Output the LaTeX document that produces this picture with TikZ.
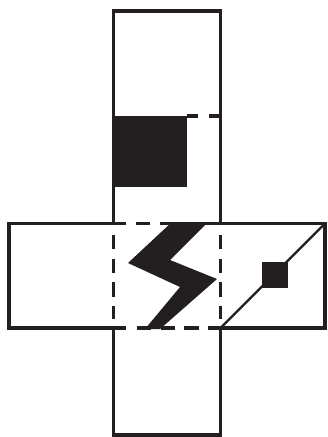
\documentclass[tikz,border=0pt]{standalone}
\usepackage{xcolor}
\usepackage{tikz}
\usetikzlibrary{positioning,calc}

\definecolor{inkblack}{HTML}{231F20}

\begin{document}
\begin{tikzpicture}[
        x=0.75pt, y=-0.75pt,
        outline/.style={draw=inkblack, line width=2.5pt, line cap=butt, line join=miter},
        dashline/.style={draw=inkblack, line width=2.5pt, dash pattern=on 10.8pt off 6.9pt},
        shortdash/.style={draw=inkblack, line width=2.5pt, dash pattern=on 8.25pt off 8.25pt},
        solid fill/.style={fill=inkblack, draw=none},
        thinline/.style={draw=inkblack, line width=1.6pt}
    ]
    \useasboundingbox (0,0) rectangle (328,437);

    % Corners of the crossing
    \coordinate (topleft) at (113.5,223.5);
    \coordinate (topright) at (220.5,223.5);
    \coordinate (botleft) at (113.5,328);
    \coordinate (botright) at (220.5,328);

    % Black block in the upper arm
    \fill[solid fill] (113.5,116) rectangle (187,187);

    % Upper arm
    \draw[outline] (topleft) -- (113.5,11) -- (220.5,11) -- (topright);
    \draw[shortdash] (187,116) -- (220.5,116);

    % Lower arm
    \draw[outline] (botleft) -- (113.5,435) -- (220.5,435) -- (botright);

    % Horizontal band, solid parts
    \draw[outline] (126,223.5) -- (9,223.5) -- (9,328) -- (126,328);
    \draw[outline] (205,223.5) -- (325,223.5) -- (325,328) -- (208,328);

    % Dashes inside the crossing
    \draw[dashline] (136,223.5) -- (175,223.5);
    \draw[dashline] (137,328) -- (199,328);
    \draw[dashline] (113.5,235) -- (113.5,319);
    \draw[dashline] (220.5,235) -- (220.5,319);

    % Lightning bolt
    \fill[solid fill] (172,222) -- (208,222) -- (170,260) -- (217,279)
        -- (160,329) -- (145,329) -- (180,287) -- (128,263) -- cycle;

    % Diagonal with small square
    \draw[thinline] (botright) -- (325,223.5);
    \node[solid fill, minimum size=19.5pt, inner sep=0pt] (mark) at (275,274.5) {};

\end{tikzpicture}
\end{document}
